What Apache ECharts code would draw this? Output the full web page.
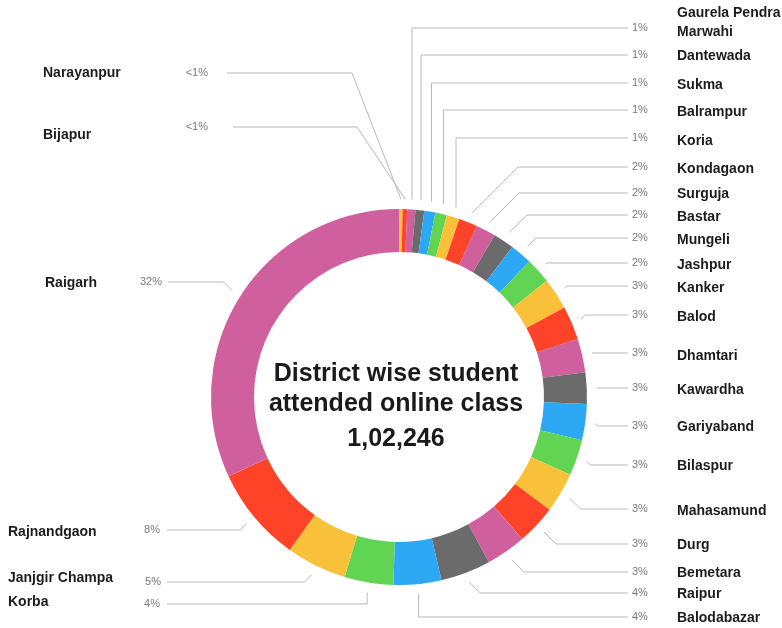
<!DOCTYPE html>
<html>
<head>
<meta charset="utf-8">
<script src="https://cdn.jsdelivr.net/npm/echarts@6/dist/echarts.min.js"></script>
<style>
  html, body { margin: 0; padding: 0; background: #ffffff; }
  #chart { width: 782px; height: 628px; }
</style>
</head>
<body>
<div id="chart"></div>
<script>
// Districts, clockwise from 12 o'clock
const districts = [
  'Narayanpur', 'Bijapur', 'Gaurela Pendra Marwahi', 'Dantewada', 'Sukma',
  'Balrampur', 'Koria', 'Kondagaon', 'Surguja', 'Bastar', 'Mungeli', 'Jashpur',
  'Kanker', 'Balod', 'Dhamtari', 'Kawardha', 'Gariyaband', 'Bilaspur',
  'Mahasamund', 'Durg', 'Bemetara', 'Raipur', 'Balodabazar', 'Korba',
  'Janjgir Champa', 'Rajnandgaon', 'Raigarh'
];

// Students who attended online classes in each district
const students = [
  307, 409, 716, 767, 971,
  1022, 1125, 1636, 1738, 1840, 1943, 2249,
  2761, 2965, 2958, 2754, 3170, 3162,
  3527, 3476, 3519, 4397, 4192, 4294,
  5317, 8384, 32647
];

const titleLines = ['District wise student', 'attended online class'];

const palette = ['#f9c13a', '#ff4329', '#d0609d', '#6b6b6b', '#2da8f4', '#62d453'];

// Label placement: right column [leader y, name y, elbow]
// elbow: 'v' = vertical rise, 'd' = 45° bend
const rightSpots = {
  'Gaurela Pendra Marwahi': [28, 23, 'v'],
  'Dantewada': [55, 56, 'v'],
  'Sukma': [83, 85, 'v'],
  'Balrampur': [110, 112, 'v'],
  'Koria': [138, 141, 'v'],
  'Kondagaon': [167, 169, 'd'],
  'Surguja': [193, 194, 'd'],
  'Bastar': [215, 217, 'd'],
  'Mungeli': [238, 240, 'd'],
  'Jashpur': [263, 265, 'd'],
  'Kanker': [286, 288, 'd'],
  'Balod': [315, 317, 'd'],
  'Dhamtari': [353, 356, 'd'],
  'Kawardha': [388, 390, 'd'],
  'Gariyaband': [426, 427, 'd'],
  'Bilaspur': [465, 466, 'd'],
  'Mahasamund': [509, 511, 'd'],
  'Durg': [544, 545, 'd'],
  'Bemetara': [572, 573, 'd'],
  'Raipur': [593, 594, 'd'],
  'Balodabazar': [617, 618, 'v']
};
// Left column [leader y, name y, elbow (x or style), percent right edge, leader start x, name x]
const leftSpots = {
  'Narayanpur': [73, 73, 352, 208, 227, 43],
  'Bijapur': [127, 135, 357, 208, 233, 43],
  'Raigarh': [282, 283, 'd', 162, 168, 45],
  'Rajnandgaon': [530, 532, 'd', 160, 167, 8],
  'Janjgir Champa': [582, 578, 'd', 161, 167, 8],
  'Korba': [604, 602, 'v', 160, 167, 8]
};

const CX = 399, CY = 397, R_IN = 145, R_OUT = 188, GAP = 10;
const RIGHT_PCT_X = 632, RIGHT_LINE_END = 628, RIGHT_NAME_X = 677;

const total = students.reduce((a, b) => a + b, 0);

function indianFormat(n) {
  const s = String(Math.round(n));
  if (s.length <= 3) return s;
  const last3 = s.slice(-3);
  let rest = s.slice(0, -3);
  const parts = [];
  while (rest.length > 2) { parts.unshift(rest.slice(-2)); rest = rest.slice(0, -2); }
  if (rest.length) parts.unshift(rest);
  return parts.join(',') + ',' + last3;
}

function pctText(v) {
  const p = Math.round(v / total * 100);
  return p < 1 ? '<1%' : p + '%';
}

const seriesData = districts.map((name, i) => ({ name: name, value: students[i] }));

// fallback mid-angle anchor from cumulative values
const cumulative = [];
students.reduce((acc, v, i) => { cumulative[i] = acc + v / 2; return acc + v; }, 0);

function anchorPoint(params) {
  let dx, dy;
  const pts = params.labelLinePoints;
  if (pts && pts.length) {
    dx = pts[0][0] - CX; dy = pts[0][1] - CY;
  } else {
    const a = cumulative[params.dataIndex] / total * Math.PI * 2;
    dx = Math.sin(a); dy = -Math.cos(a);
  }
  const len = Math.sqrt(dx * dx + dy * dy) || 1;
  return [CX + dx / len * (R_OUT + GAP), CY + dy / len * (R_OUT + GAP)];
}

function elbowX(anchor, y, dir, elbow) {
  if (elbow === 'v') return anchor[0];
  if (elbow === 'd') return anchor[0] + dir * Math.abs(anchor[1] - y);
  return elbow;
}

function pctLayout(params) {
  const name = districts[params.dataIndex];
  const anchor = anchorPoint(params);
  if (rightSpots[name]) {
    const [y, , elbow] = rightSpots[name];
    const ex = elbowX(anchor, y, 1, elbow);
    return {
      x: RIGHT_PCT_X, y: y, align: 'left', verticalAlign: 'middle',
      labelLinePoints: [anchor, [ex, y], [RIGHT_LINE_END, y]]
    };
  }
  const [y, , elbow, pctRight, lineStart] = leftSpots[name];
  const ex = elbowX(anchor, y, -1, elbow);
  return {
    x: pctRight, y: y, align: 'right', verticalAlign: 'middle',
    labelLinePoints: [anchor, [ex, y], [lineStart, y]]
  };
}

function nameLayout(params) {
  const name = districts[params.dataIndex];
  if (rightSpots[name]) {
    return { x: RIGHT_NAME_X, y: rightSpots[name][1], align: 'left', verticalAlign: 'middle' };
  }
  const s = leftSpots[name];
  return { x: s[5], y: s[1], align: 'left', verticalAlign: 'middle' };
}

const fontFamily = '"Liberation Sans", Arial, Helvetica, sans-serif';

const chart = echarts.init(document.getElementById('chart'), null, { renderer: 'canvas' });

const centerLines = [titleLines[0], titleLines[1], indianFormat(total)];
const centerY = [374, 404, 439];

chart.setOption({
  animation: false,
  backgroundColor: '#ffffff',
  color: palette,
  series: [
    {
      type: 'pie',
      center: [CX, CY],
      radius: [R_IN, R_OUT],
      startAngle: 90,
      clockwise: true,
      avoidLabelOverlap: false,
      silent: true,
      itemStyle: { borderWidth: 0 },
      label: {
        show: true,
        position: 'outside',
        formatter: p => pctText(p.value),
        fontFamily: fontFamily,
        fontSize: 11,
        color: '#7a7a7a'
      },
      labelLine: {
        show: true,
        length: 10,
        length2: 10,
        lineStyle: { color: '#b9b9b9', width: 1 }
      },
      labelLayout: pctLayout,
      data: seriesData
    },
    {
      type: 'pie',
      center: [CX, CY],
      radius: [R_IN, R_OUT],
      startAngle: 90,
      clockwise: true,
      avoidLabelOverlap: false,
      silent: true,
      z: 1,
      itemStyle: { color: 'rgba(0,0,0,0)', borderWidth: 0 },
      label: {
        show: true,
        position: 'outside',
        formatter: p => p.name.replace('Pendra ', 'Pendra\n'),
        fontFamily: fontFamily,
        fontSize: 14,
        fontWeight: 'bold',
        lineHeight: 19,
        color: '#1c1c1c'
      },
      labelLine: { show: false },
      labelLayout: nameLayout,
      data: seriesData
    }
  ],
  graphic: centerLines.map((t, i) => ({
    type: 'text',
    silent: true,
    style: {
      text: t, x: 396, y: centerY[i],
      textAlign: 'center', textVerticalAlign: 'middle',
      font: 'bold 25px ' + fontFamily, fill: '#1a1a1a'
    }
  }))
});
</script>
</body>
</html>
